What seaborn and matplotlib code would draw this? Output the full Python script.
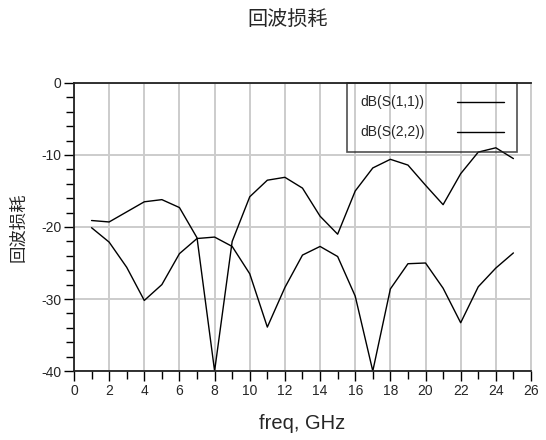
import pandas as pd
import matplotlib.pyplot as plt
import seaborn as sns
from matplotlib.ticker import MultipleLocator

freq = list(range(1, 26))
s11 = [-19.1, -19.3, -17.9, -16.5, -16.2, -17.3, -21.5, -40.0, -22.0, -15.8,
       -13.5, -13.1, -14.6, -18.5, -21.0, -15.0, -11.8, -10.6, -11.4, -14.2,
       -16.9, -12.6, -9.6, -9.0, -10.5]
s22 = [-20.1, -22.1, -25.6, -30.2, -28.0, -23.7, -21.6, -21.4, -22.7, -26.5,
       -33.9, -28.4, -23.9, -22.7, -24.1, -29.6, -40.0, -28.6, -25.1, -25.0,
       -28.5, -33.3, -28.3, -25.7, -23.6]
names = ['dB(S(1,1))', 'dB(S(2,2))']

df = pd.DataFrame({
    'freq': freq * 2,
    'val': s11 + s22,
    'trace': [names[0]] * len(freq) + [names[1]] * len(freq),
})

sns.set_style("whitegrid")
plt.rcParams['font.family'] = ['Liberation Sans', 'Noto Sans CJK SC', 'DejaVu Sans']
plt.rcParams['axes.unicode_minus'] = False

fig = plt.figure(figsize=(5.46, 4.40), dpi=100)
ax = fig.add_axes([0.1355, 0.1568, 0.837, 0.6546])

sns.lineplot(data=df, x='freq', y='val', hue='trace',
             palette=['black', 'black'], linewidth=1.0, ax=ax)

ax.set_xlim(0, 26)
ax.set_ylim(-40, 0)
ax.xaxis.set_major_locator(MultipleLocator(2))
ax.xaxis.set_minor_locator(MultipleLocator(1))
ax.yaxis.set_major_locator(MultipleLocator(10))
ax.yaxis.set_minor_locator(MultipleLocator(2))
ax.grid(True, which='major', color='#cccccc', linewidth=1.4)
ax.grid(False, which='minor')
ax.tick_params(which='both', direction='out', color='black', width=1.0,
               bottom=True, left=True, labelsize=10, pad=2)
ax.tick_params(which='major', length=7)
ax.tick_params(which='minor', length=6)

for side in ['left', 'bottom', 'top']:
    ax.spines[side].set_color('#222222')
    ax.spines[side].set_linewidth(1.3)
ax.spines['right'].set_color('#cccccc')
ax.spines['right'].set_linewidth(1.4)

ax.set_xlabel('freq, GHz', fontsize=14.5, labelpad=12)
ax.set_ylabel('回波损耗', fontsize=12.5, family=['Noto Sans CJK SC'], labelpad=10)
fig.suptitle('回波损耗', x=0.527, y=0.978, fontsize=14.5,
             family=['Noto Sans CJK SC'])

# legend: transparent box, labels on the left, line samples on the right
leg = ax.legend(loc='upper right', bbox_to_anchor=(0.969, 1.0), markerfirst=False,
                frameon=True, fancybox=False, edgecolor='#222222',
                fontsize=10, handlelength=3.4, borderpad=0.9, labelspacing=1.15,
                handletextpad=2.35, borderaxespad=0, title=None)
leg.get_frame().set_facecolor('none')
leg.get_frame().set_linewidth(1.2)

fig.savefig('out.png', dpi=100)
